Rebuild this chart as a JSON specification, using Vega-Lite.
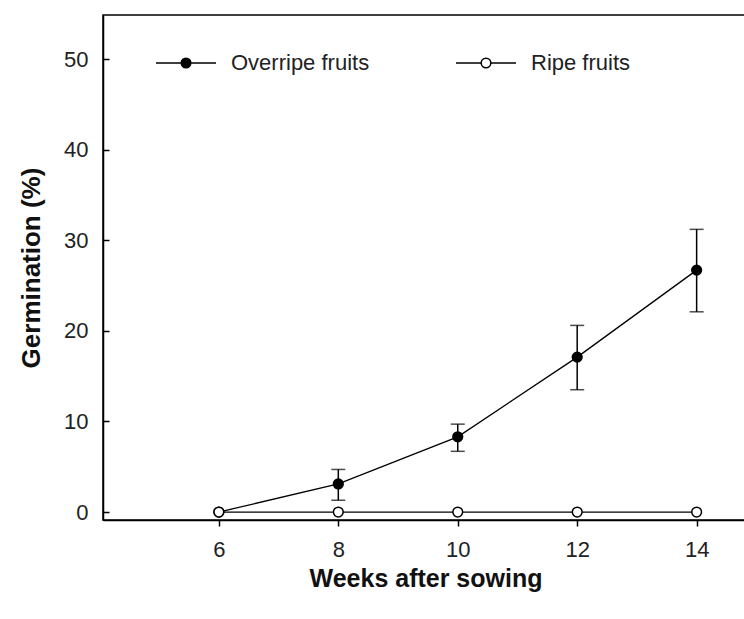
{
  "$schema": "https://vega.github.io/schema/vega-lite/v6.json",
  "width": 645,
  "height": 505,
  "autosize": {"type": "none"},
  "padding": {"left": 103, "top": 15, "right": 0, "bottom": 99},
  "background": "white",
  "config": {
    "view": {"stroke": "black", "strokeWidth": 1.5},
    "font": "Liberation Sans",
    "axis": {"grid": false, "domainColor": "black", "domainWidth": 1.5, "tickColor": "black", "tickWidth": 1.5, "labelColor": "#222", "titleColor": "#111"}
  },
  "data": {
    "values": [
      {"week": 6, "series": "Overripe fruits", "germ": 0, "lo": null, "hi": null},
      {"week": 8, "series": "Overripe fruits", "germ": 3.1, "lo": 1.3, "hi": 4.7},
      {"week": 10, "series": "Overripe fruits", "germ": 8.3, "lo": 6.7, "hi": 9.7},
      {"week": 12, "series": "Overripe fruits", "germ": 17.1, "lo": 13.5, "hi": 20.6},
      {"week": 14, "series": "Overripe fruits", "germ": 26.7, "lo": 22.1, "hi": 31.2},
      {"week": 6, "series": "Ripe fruits", "germ": 0, "lo": null, "hi": null},
      {"week": 8, "series": "Ripe fruits", "germ": 0, "lo": null, "hi": null},
      {"week": 10, "series": "Ripe fruits", "germ": 0, "lo": null, "hi": null},
      {"week": 12, "series": "Ripe fruits", "germ": 0, "lo": null, "hi": null},
      {"week": 14, "series": "Ripe fruits", "germ": 0, "lo": null, "hi": null}
    ]
  },
  "encoding": {
    "x": {
      "field": "week", "type": "quantitative",
      "scale": {"domain": [4.06, 14.86], "nice": false, "zero": false},
      "axis": {"values": [6, 8, 10, 12, 14], "title": "Weeks after sowing", "tickSize": 6, "labelPadding": 13, "labelFontSize": 22, "titleFontSize": 25, "titleFontWeight": "bold", "titlePadding": 6}
    },
    "y": {
      "field": "germ", "type": "quantitative",
      "scale": {"domain": [-0.88, 54.86], "nice": false, "zero": false},
      "axis": {"values": [0, 10, 20, 30, 40, 50], "title": "Germination (%)", "tickSize": -6, "labelPadding": 21, "labelFontSize": 22, "titleFontSize": 26, "titleFontWeight": "bold", "titlePadding": 19}
    }
  },
  "layer": [
    {
      "transform": [{"filter": "datum.lo != null"}],
      "mark": {"type": "rule", "color": "black", "strokeWidth": 1.5},
      "encoding": {"y": {"field": "lo", "type": "quantitative"}, "y2": {"field": "hi"}}
    },
    {
      "transform": [{"filter": "datum.lo != null"}],
      "mark": {"type": "tick", "orient": "horizontal", "color": "black", "size": 14, "thickness": 1.5},
      "encoding": {"y": {"field": "lo", "type": "quantitative"}}
    },
    {
      "transform": [{"filter": "datum.lo != null"}],
      "mark": {"type": "tick", "orient": "horizontal", "color": "black", "size": 14, "thickness": 1.5},
      "encoding": {"y": {"field": "hi", "type": "quantitative"}}
    },
    {
      "mark": {"type": "line", "color": "black", "strokeWidth": 1.3},
      "encoding": {"detail": {"field": "series"}}
    },
    {
      "mark": {"type": "point", "shape": "circle", "stroke": "black", "strokeWidth": 1.5, "opacity": 1, "size": 95},
      "encoding": {
        "fill": {
          "field": "series", "type": "nominal",
          "scale": {"domain": ["Overripe fruits", "Ripe fruits"], "range": ["black", "white"]},
          "legend": {
            "title": null,
            "orient": "none",
            "direction": "horizontal",
            "legendX": 52,
            "legendY": 17,
            "symbolType": "M-1,0H-0.16M0.16,0H1M0.16,0A0.16,0.16,0,1,1,-0.16,0A0.16,0.16,0,1,1,0.16,0Z",
            "symbolSize": 3600,
            "symbolStrokeColor": "black",
            "symbolStrokeWidth": 1.5,
            "symbolOpacity": 1,
            "labelFontSize": 22,
            "labelColor": "#222",
            "labelOffset": 14,
            "columnPadding": 83,
            "labelLimit": 300
          }
        },
        "order": {"field": "series", "sort": "ascending"}
      }
    }
  ]
}
